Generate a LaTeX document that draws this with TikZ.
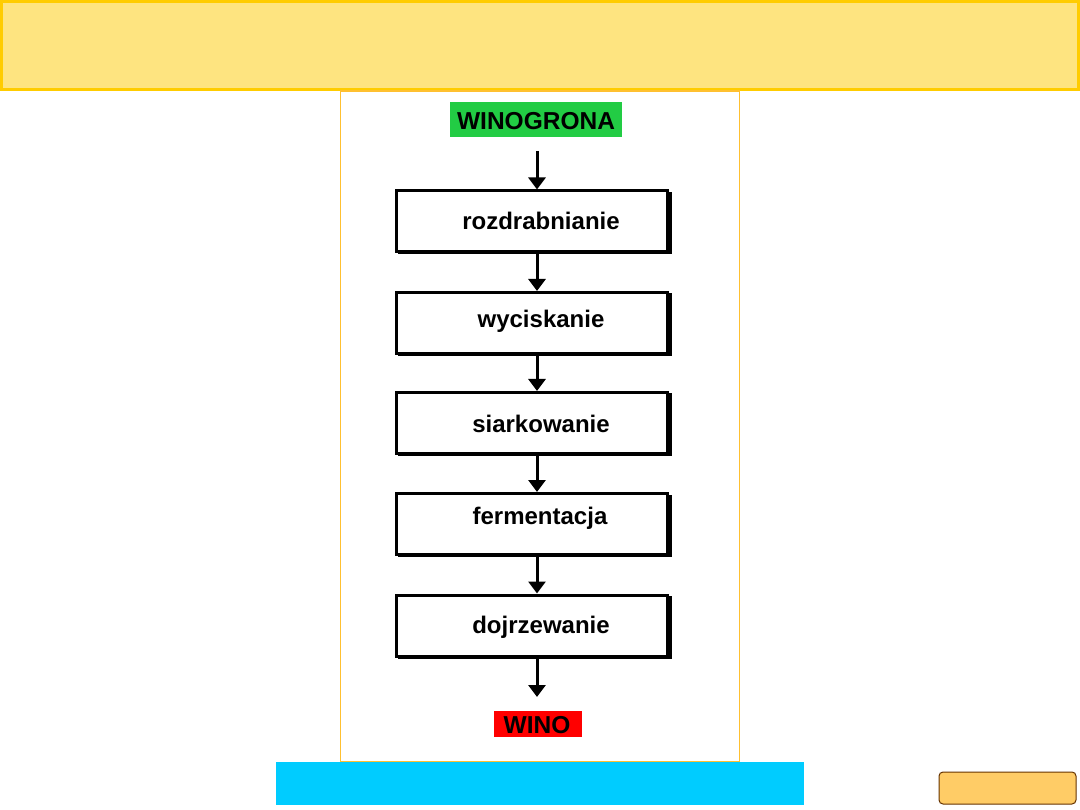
\documentclass[tikz,border=0pt]{standalone}
\usepackage{fontspec}
\setmainfont{Liberation Sans}
\usetikzlibrary{arrows.meta}
\definecolor{bannerfill}{HTML}{FEE480}
\definecolor{bannerline}{HTML}{FFCC00}
\definecolor{panelline}{HTML}{FFC030}
\definecolor{grn}{HTML}{22CC44}
\definecolor{rd}{HTML}{FF0000}
\definecolor{cyanbar}{HTML}{00CCFF}
\definecolor{btnfill}{HTML}{FFCC66}
\definecolor{btnline}{HTML}{663300}
\tikzset{
  stepbox/.style={draw=black, line width=3pt, fill=white, minimum width=271pt, minimum height=61pt, inner sep=0pt},
  steptext/.style={font=\fontsize{24}{28}\selectfont\bfseries, inner sep=0pt},
  flow/.style={line width=3pt, -{Triangle[length=12pt,width=17pt]}},
  tag/.style={font=\fontsize{24.5}{28}\selectfont\bfseries, inner sep=0pt}
}
\begin{document}
\begin{tikzpicture}[x=1pt,y=-1pt]
\useasboundingbox (0,0) rectangle (1080,810);
\fill[white] (0,0) rectangle (1080,810);
% banner
\draw[fill=bannerfill, draw=bannerline, line width=3pt] (1.5,1.5) rectangle (1078.5,89.5);
% panel
\draw[fill=white, draw=panelline, line width=1.6pt] (340.5,91) rectangle (739.5,762);
% cyan bar
\fill[cyanbar] (276,762) rectangle (804,805);
% button
\draw[fill=btnfill, draw=btnline, line width=1pt, rounded corners=4pt] (939,772) rectangle (1076,804);
% top / bottom labels
\node[fill=grn, minimum width=172pt, minimum height=35pt, inner sep=0pt] (top) at (536,119.5) {};
\node[tag] (toptext) at (536,121) {WINOGRONA};
\node[fill=rd, minimum width=88pt, minimum height=26pt, inner sep=0pt] (bot) at (538,724) {};
\node[tag] (bottext) at (537,725) {WINO};
% boxes with shadow
\foreach \n/\y in {b1/221.5, b2/323, b3/423, b4/524, b5/625.5}{
  \fill[black] (395+3,\y-31+1.5) rectangle (669+2.5,\y+32+1);
  \node[stepbox] (\n) at (532,\y) {};
}
\node[steptext] (t1) at (541,221) {rozdrabnianie};
\node[steptext] (t2) at (541,321) {wyciskanie};
\node[steptext] (t3) at (541,424) {siarkowanie};
\node[steptext] (t4) at (540,518) {fermentacja};
\node[steptext] (t5) at (541,627) {dojrzewanie};
% arrows
\coordinate (a0) at (537,151);
\coordinate (a6) at (537,697);
\draw[flow] (a0) -- (a0 |- b1.north);
\draw[flow] (a0 |- b1.south) -- (a0 |- b2.north);
\draw[flow] (a0 |- b2.south) -- (a0 |- b3.north);
\draw[flow] (a0 |- b3.south) -- (a0 |- b4.north);
\draw[flow] (a0 |- b4.south) -- (a0 |- b5.north);
\draw[flow] (a0 |- b5.south) -- (a6);
\end{tikzpicture}
\end{document}
